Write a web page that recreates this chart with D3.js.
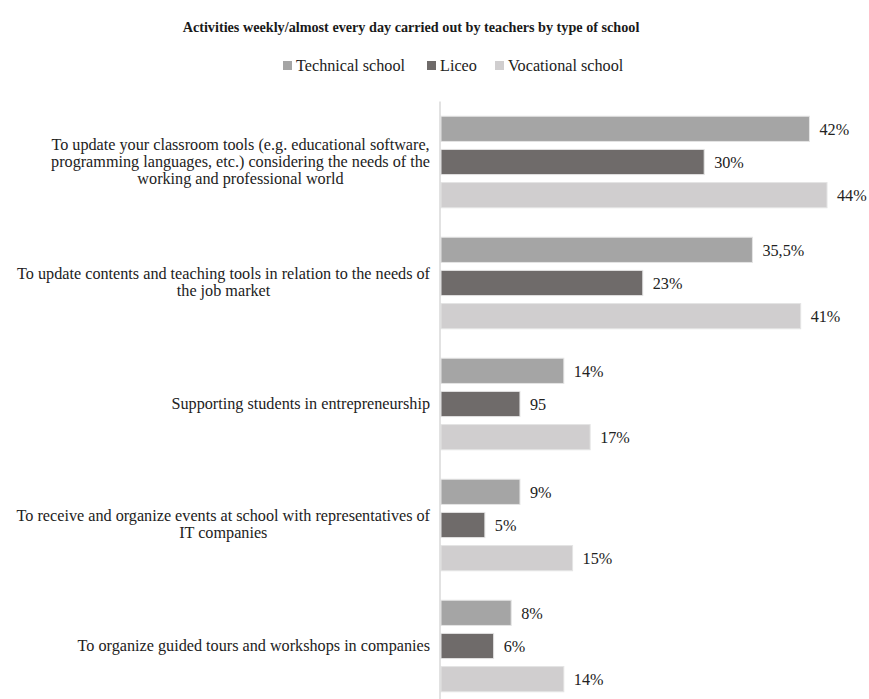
<!DOCTYPE html>
<html>
<head>
<meta charset="utf-8">
<script src="https://cdn.jsdelivr.net/npm/d3@7"></script>
<style>
  html, body { margin: 0; padding: 0; background: #fff; }
  svg { display: block; font-family: "Liberation Serif", "Times New Roman", serif; }
</style>
</head>
<body>
<svg id="chart" width="869" height="699"></svg>
<script>
// Activities carried out weekly / almost every day, by type of school (%)
const categories = [
  ["To update your classroom tools (e.g. educational software,", "programming languages, etc.) considering the needs of the", "working and professional world"],
  ["To update contents and teaching tools in relation to the needs of", "the job market"],
  ["Supporting students in entrepreneurship"],
  ["To receive and organize events at school with representatives of", "IT companies"],
  ["To organize guided tours and workshops in companies"]
];
const series = ["Technical school", "Liceo", "Vocational school"];
const technical = [42, 35.5, 14, 9, 8];
const liceo = [30, 23, 9, 5, 6];
const vocational = [44, 41, 17, 15, 14];
const technicalLabels = ["42%", "35,5%", "14%", "9%", "8%"];
const liceoLabels = ["30%", "23%", "95", "5%", "6%"];
const vocationalLabels = ["44%", "41%", "17%", "15%", "14%"];
const colors = ["#a5a5a5", "#6f6b6a", "#d0cecf"];

const values = [technical, liceo, vocational];
const labels = [technicalLabels, liceoLabels, vocationalLabels];

const fontSize = 16.2;
const svg = d3.select("#chart");

const x = d3.scaleLinear().domain([0, 44]).range([441, 827]);
const y0 = d3.scaleBand().domain(d3.range(categories.length)).range([101.5, 706.5]);
const y1 = d3.scaleBand().domain(d3.range(series.length)).range([0, 91.5]).paddingInner(0.24);
const groupOffset = (y0.bandwidth() - 91.5) / 2;

// Title
svg.append("text")
  .attr("x", 411).attr("y", 32)
  .attr("text-anchor", "middle")
  .attr("font-size", 14.2).attr("font-weight", "bold").attr("fill", "#1a1a1a")
  .text("Activities weekly/almost every day carried out by teachers by type of school");

// Legend
const legendX = [283, 427, 495];
const legend = svg.append("g");
series.forEach((s, i) => {
  legend.append("rect")
    .attr("x", legendX[i]).attr("y", 61)
    .attr("width", 9).attr("height", 9)
    .attr("fill", colors[i]);
  legend.append("text")
    .attr("x", legendX[i] + 13).attr("y", 71)
    .attr("font-size", fontSize).attr("fill", "#222")
    .text(s);
});

// Bars
const groups = svg.append("g").selectAll("g")
  .data(categories)
  .join("g")
  .attr("transform", (d, i) => `translate(0,${y0(i) + groupOffset})`);

groups.each(function (d, i) {
  const g = d3.select(this);
  series.forEach((s, j) => {
    g.append("rect")
      .attr("x", x(0))
      .attr("y", y1(j))
      .attr("width", x(values[j][i]) - x(0))
      .attr("height", y1.bandwidth())
      .attr("fill", colors[j])
      .attr("stroke", "#e4e4e4")
      .attr("stroke-width", 1);
    g.append("text")
      .attr("x", x(values[j][i]) + 10)
      .attr("y", y1(j) + y1.bandwidth() / 2)
      .attr("dy", "0.36em")
      .attr("font-size", fontSize).attr("fill", "#222")
      .text(labels[j][i]);
  });
});

// Vertical category axis line
svg.append("line")
  .attr("x1", 440).attr("x2", 440)
  .attr("y1", y0.range()[0]).attr("y2", y0.range()[1])
  .attr("stroke", "#d9d9d9").attr("stroke-width", 1.5);

// Category labels: each block right-aligned to the axis, lines centred within it
const lineH = 17;
const labelRight = 430;
categories.forEach((lines, i) => {
  const cy = y0(i) + y0.bandwidth() / 2 - 1;
  const g = svg.append("g");
  const texts = lines.map((t, k) => g.append("text")
    .attr("font-size", fontSize).attr("fill", "#222")
    .attr("text-anchor", "middle")
    .attr("y", cy + (k - (lines.length - 1) / 2) * lineH)
    .attr("dy", "0.35em")
    .text(t));
  const w = d3.max(texts, t => t.node().getComputedTextLength());
  texts.forEach(t => t.attr("x", labelRight - w / 2));
});
</script>
</body>
</html>
